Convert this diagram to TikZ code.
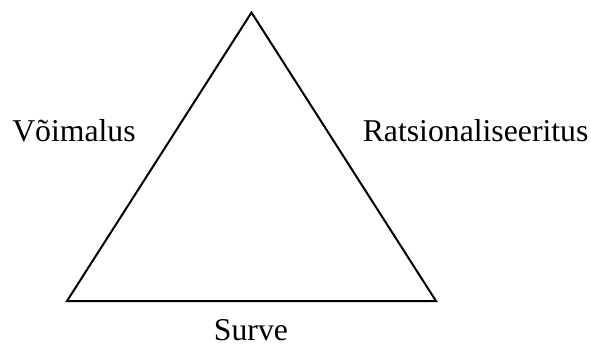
\documentclass[tikz,border=0pt]{standalone}
\usepackage{fontspec}
\setmainfont{Liberation Serif}
\usepackage{tikz}
\usetikzlibrary{positioning,calc}
\tikzset{
    side/.style={draw=black,line width=1.5pt,line join=miter},
    lbl/.style={font=\fontsize{23.8}{28}\selectfont,inner sep=0pt,anchor=base west},
}

\begin{document}
\begin{tikzpicture}[x=0.75pt,y=-0.75pt]
    \useasboundingbox (0,0) rectangle (591,354);
    \coordinate (top) at (251.5,12.5);
    \coordinate (bl) at (67,301);
    \coordinate (br) at (436,301);

    \draw[side] (top) -- (bl) -- (br) -- cycle;

    \node[lbl] (opp) at (12,141.5) {Võimalus};
    \node[lbl] (rat) at (362.5,141.5) {Ratsionaliseeritus};
    \node[lbl,anchor=base] (pres) at (251,340) {Surve};
\end{tikzpicture}
\end{document}
